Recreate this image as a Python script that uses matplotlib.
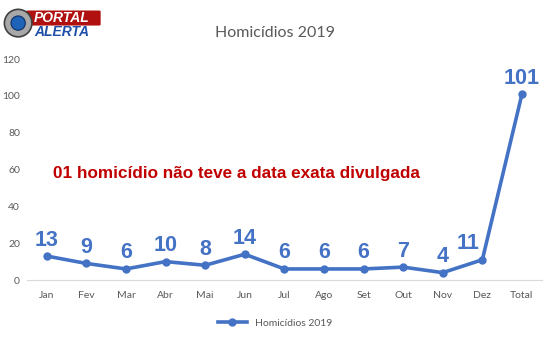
import matplotlib
matplotlib.use('Agg')
import matplotlib.pyplot as plt
from matplotlib.patches import Ellipse, FancyBboxPatch

meses   = ['Jan', 'Fev', 'Mar', 'Abr', 'Mai', 'Jun', 'Jul', 'Ago', 'Set', 'Out', 'Nov', 'Dez', 'Total']
valores = [13, 9, 6, 10, 8, 14, 6, 6, 6, 7, 4, 11, 101]
yticks  = [0, 20, 40, 60, 80, 100, 120]

AZUL  = '#4472C4'
CINZA = '#595959'

plt.rcParams['font.family'] = ['Lato', 'DejaVu Sans']

fig = plt.figure(figsize=(5.5, 3.5), dpi=100)
ax = fig.add_axes([0.049, 0.2, 0.936, 0.631])

x = list(range(len(meses)))
ax.plot(x, valores, '-o', color=AZUL, lw=2.6, ms=5, label='Homicídios 2019')

for i, v in enumerate(valores):
    dx = -10 if meses[i] == 'Dez' else 0
    ax.annotate(str(v), (i, v), textcoords='offset points', xytext=(dx, 4),
                ha='center', va='bottom', fontsize=15.5, fontweight='bold',
                color=AZUL, family='Liberation Sans')

ax.set_xlim(-0.5, len(meses) - 0.5)
ax.set_ylim(0, 120)
ax.set_xticks(x)
ax.set_xticklabels(meses)
ax.set_yticks(yticks)
ax.tick_params(axis='x', length=0, labelsize=7.5, colors=CINZA, pad=8)
ax.tick_params(axis='y', length=0, labelsize=7.5, colors=CINZA, pad=5)
for s in ['top', 'right', 'left']:
    ax.spines[s].set_visible(False)
ax.spines['bottom'].set_color('#d9d9d9')
ax.spines['bottom'].set_linewidth(0.8)

ax.text(0.05, 0.484, '01 homicídio não teve a data exata divulgada',
        transform=ax.transAxes, fontsize=12.3, fontweight='bold',
        color='#c00000', family='Liberation Sans', va='center')

fig.text(0.5, 0.905, 'Homicídios 2019', ha='center', va='center',
         fontsize=11.5, color=CINZA)

fig.legend(loc='center', bbox_to_anchor=(0.5, 0.077), frameon=False,
           fontsize=7.5, labelcolor=CINZA, handlelength=2.8)

# logo "Portal Alerta"
asp = 5.5 / 3.5
fig.patches.append(FancyBboxPatch((0.05, 0.93), 0.13, 0.037,
                                  boxstyle='round,pad=0.003', transform=fig.transFigure,
                                  facecolor='#b01010', edgecolor='none'))
fig.patches.append(Ellipse((0.033, 0.934), 0.05, 0.05 * asp, transform=fig.transFigure,
                           facecolor='#a8a8a8', edgecolor='#404040', lw=1.2))
fig.patches.append(Ellipse((0.033, 0.934), 0.026, 0.026 * asp, transform=fig.transFigure,
                           facecolor='#1f63b8', edgecolor='#0d2f66', lw=0.8))
fig.text(0.062, 0.949, 'PORTAL', fontsize=10, fontweight='bold', style='italic',
         color='white', va='center', family='Liberation Sans')
fig.text(0.062, 0.91, 'ALERTA', fontsize=10, fontweight='bold', style='italic',
         color='#1f4fa8', va='center', family='Liberation Sans')

fig.savefig('out.png', dpi=100)
